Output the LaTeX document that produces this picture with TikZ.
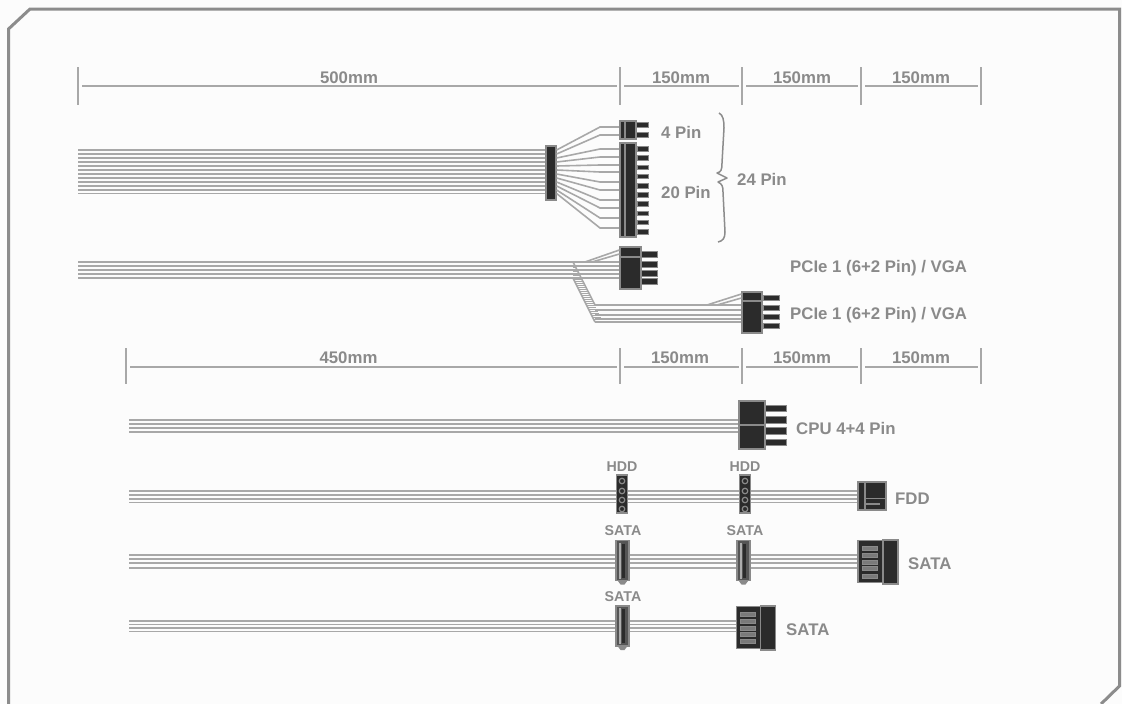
\documentclass[tikz,border=0pt]{standalone}
\usepackage{fontspec}
\setmainfont{Liberation Sans}
\definecolor{lab}{HTML}{8A8A8A}
\definecolor{frm}{HTML}{8C8C8C}
\definecolor{wir}{HTML}{A8A8A8}
\definecolor{blk}{HTML}{2B2B2B}
\definecolor{edg}{HTML}{8A8A8A}
\definecolor{slot}{HTML}{7A7A7A}
\tikzset{
  frameline/.style={draw=frm,line width=3pt,line join=miter},
  dimline/.style={draw=wir,line width=1.4pt},
  dimtick/.style={draw=wir,line width=1.6pt},
  lbl/.style={text=lab,font=\bfseries\fontsize{16.8}{18}\selectfont,inner sep=0pt,yshift=-1pt},
  lbls/.style={text=lab,font=\bfseries\fontsize{14.2}{16}\selectfont,inner sep=0pt,yshift=-1pt},
  wire/.style={draw=wir,line width=1.6pt},
  conn/.style={draw=edg,fill=blk,line width=1.2pt,inner sep=0pt,rectangle},
  pin/.style={conn,line width=1pt},
  hole/.style={circle,draw=lab,fill=blk,line width=1.2pt,minimum size=5.5pt,inner sep=0pt},
  slotbar/.style={rectangle,draw=lab,fill=slot,line width=.8pt,minimum width=15pt,minimum height=4pt,inner sep=0pt},
  bracebar/.style={draw=frm,line width=1.5pt,line join=round}
}
\begin{document}
\begin{tikzpicture}[x=1pt,y=-1pt]
\useasboundingbox (0,0) rectangle (1122,704);
\fill[white!99!black] (0,0) rectangle (1122,704);
% frame
\coordinate (fa) at (8.5,704);
\coordinate (fb) at (8.5,29);
\coordinate (fc) at (30,9);
\coordinate (fd) at (1119.5,9);
\coordinate (fe) at (1119.5,686);
\coordinate (ff) at (1101,704);
\draw[frameline] (fa) -- (fb) -- (fc) -- (fd) -- (fe) -- (ff);
% dimension rows
\foreach \n/\x in {a/78,b/620,c/742,d/861,e/981}{
  \coordinate (t1\n) at (\x,67);
  \coordinate (u1\n) at (\x,105);
  \draw[dimtick] (t1\n) -- (u1\n);
}
\foreach \n/\x in {a/126,b/620,c/742,d/861,e/981}{
  \coordinate (t2\n) at (\x,348);
  \coordinate (u2\n) at (\x,384);
  \draw[dimtick] (t2\n) -- (u2\n);
}
\foreach \r/\y in {1/86,2/367}{
  \foreach \p/\q in {a/b,b/c,c/d,d/e}{
    \draw[dimline] ([xshift=4pt]t\r\p |- 0,\y) -- ([xshift=-3pt]t\r\q |- 0,\y);
  }
}
\node[lbl] (d1) at (349,77) {500mm};
\node[lbl] (d2) at (681,77) {150mm};
\node[lbl] (d3) at (802,77) {150mm};
\node[lbl] (d4) at (921,77) {150mm};
\node[lbl] (d5) at (348.5,357) {450mm};
\node[lbl] (d6) at (680,357) {150mm};
\node[lbl] (d7) at (802,357) {150mm};
\node[lbl] (d8) at (921,357) {150mm};
% ATX
\coordinate (atxs) at (78,170);
\node[conn,minimum width=10,minimum height=54] (atxj) at (551,173) {};
\foreach \y/\e [count=\i] in {150/127,154/135,158/149,162/157,166/165,170/172,174/182,178/190,182/200,186/208,190/218,193.5/228}{
  \draw[wire] (atxs |- 0,\y) -- (atxj.west |- 0,\y);
  \draw[wire] (atxj.east |- 0,\y) -- (600,\e) -- (620,\e);
}
\node[conn,minimum width=16,minimum height=18] (p4) at (628,130) {};
\draw[edg,line width=1.2pt] (625,121) -- (625,139);
\foreach \y in {124.5,134.5}{\node[pin,minimum width=12,minimum height=5] at (642.5,\y) {};}
\node[conn,minimum width=16,minimum height=94] (p20) at (628,190) {};
\draw[edg,line width=1.2pt] (625,143) -- (625,237);
\foreach \i in {0,...,9}{\node[pin,minimum width=11,minimum height=4.6] at (642.5,149+9.2*\i) {};}
\node[lbl,anchor=west] (l4) at (661,131) {4 Pin};
\node[lbl,anchor=west] (l20) at (661,191) {20 Pin};
\node[lbl,anchor=west] (l24) at (737,178) {24 Pin};
\draw[bracebar] (719,113) .. controls (723,115) and (724,120) .. (724,128) -- (722,163)
  .. controls (722,170) and (721,172) .. (717,173) -- (727,178) -- (718,182)
  .. controls (722,184) and (723,186) .. (723,192) -- (725,232)
  .. controls (725,238) and (723,241) .. (718,242);
% PCIe 1
\coordinate (pcs) at (78,270);
\node[conn,minimum width=21,minimum height=42] (pc1) at (630.5,268) {};
\draw[edg,line width=2pt] (620,256.5) -- (641,256.5);
\foreach \y in {254.5,264.5,273.5,281.5}{\node[pin,minimum width=16,minimum height=5.5] at (649,\y) {};}
\foreach \y in {262,266,270,274,278}{\draw[wire] (pcs |- 0,\y) -- (pc1.west |- 0,\y);}
\draw[wire] (585,262) -- (pc1.west |- 0,250);
\draw[wire] (592,262) -- (pc1.west |- 0,254);
% branch
\node[conn,minimum width=20,minimum height=41] (pc2) at (752,312.5) {};
\draw[edg,line width=2pt] (742,300.5) -- (762,300.5);
\foreach \y in {298,308,317,326}{\node[pin,minimum width=16,minimum height=5.5] at (771,\y) {};}
\foreach \i in {0,...,28}{
  \pgfmathsetmacro{\yy}{263+2*\i}
  \pgfmathsetmacro{\xa}{573+(\yy-262)*0.5}
  \draw[wir,line width=1pt] ({max(573,573+(\yy-278)*0.5)},\yy) -- (\xa,\yy);
}
\draw[wire] (573,262) -- (595,305);
\draw[wire] (573,278) -- (595,322);
\foreach \y in {305,310,315,319,322}{\draw[wire] (595,\y) -- (pc2.west |- 0,\y);}
\draw[wire] (707,305) -- (pc2.west |- 0,294);
\draw[wire] (717,305) -- (pc2.west |- 0,298);
\node[lbl,anchor=west] (lp1) at (790,267) {PCIe 1 (6+2 Pin) / VGA};
\node[lbl,anchor=west] (lp2) at (790,314) {PCIe 1 (6+2 Pin) / VGA};
% CPU
\coordinate (cps) at (129,426);
\node[conn,minimum width=26,minimum height=48] (cpu) at (752,425) {};
\draw[edg,line width=1.2pt] (739,425) -- (765,425);
\foreach \y in {408.5,420,431,442.5}{\node[pin,minimum width=21,minimum height=6.5] at (776,\y) {};}
\foreach \y in {420,424,428,432}{\draw[wire] (cps |- 0,\y) -- (cpu.west |- 0,\y);}
\node[lbl,anchor=west] (lcpu) at (796,427) {CPU 4+4 Pin};
% FDD row
\coordinate (fds) at (129,496);
\node[conn,minimum width=28,minimum height=28] (fdd) at (872,496) {};
\foreach \y in {491,495,499,502.5}{\draw[wire] (fds |- 0,\y) -- (fdd.west |- 0,\y);}
\draw[edg,line width=1.4pt] (865,482) -- (865,510);
\draw[edg,line width=1.4pt] (865,498.5) -- (886,498.5);
\draw[edg,line width=1.4pt] (865,504) -- (880,504);
\foreach \n/\x in {ha/622,hb/745}{
  \node[conn,minimum width=11,minimum height=38] (\n) at (\x,494) {};
  \foreach \y in {481,491,500,509}{\node[hole] at (\x,\y) {};}
}
\node[lbls] (lh1) at (622,466) {HDD};
\node[lbls] (lh2) at (745,466) {HDD};
\node[lbl,anchor=west] (lf) at (895,498) {FDD};
% SATA rows
\coordinate (s1s) at (129,561);
\node[conn,minimum width=25,minimum height=42] (e1) at (870.5,561.5) {};
\node[conn,minimum width=15,minimum height=44] (e1b) at (890.5,562) {};
\foreach \y in {555,559,563,568}{\draw[wire] (s1s |- 0,\y) -- (e1.west |- 0,\y);}
\foreach \y in {548,555,562,568.5,576}{\node[slotbar] at (870,\y) {};}
\coordinate (s2s) at (129,626);
\node[conn,minimum width=24,minimum height=42] (e2) at (748.5,627.5) {};
\node[conn,minimum width=15,minimum height=44] (e2b) at (768,628) {};
\foreach \y in {621,624.5,628,631.5}{\draw[wire] (s2s |- 0,\y) -- (e2.west |- 0,\y);}
\foreach \y in {614,621,628,634.5,641.5}{\node[slotbar] at (748,\y) {};}
\foreach \n/\x/\y in {sa/622.5/560.5,sb/743.5/560.5,sc/622.5/626}{
  \node[conn,draw=lab,line width=1.8pt,fill=blk!80,minimum width=13,minimum height=40] (\n) at (\x,\y) {};
  \draw[lab!70,line width=1.2pt] (\x-2.5,\y-18) -- (\x-2.5,\y+18);
  \draw[blk,line width=3pt] (\x+1,\y-17) -- (\x+1,\y+17);
  \draw[lab,line width=2pt] (\x-3,\y+21) -- (\x+3,\y+21) -- (\x+1.5,\y+23) -- (\x-1.5,\y+23) -- cycle;
}
\node[lbls] (ls1) at (623,530) {SATA};
\node[lbls] (ls2) at (745,530) {SATA};
\node[lbls] (ls3) at (623,596) {SATA};
\node[lbl,anchor=west] (ls4) at (908,563) {SATA};
\node[lbl,anchor=west] (ls5) at (786,629) {SATA};
\end{tikzpicture}
\end{document}
